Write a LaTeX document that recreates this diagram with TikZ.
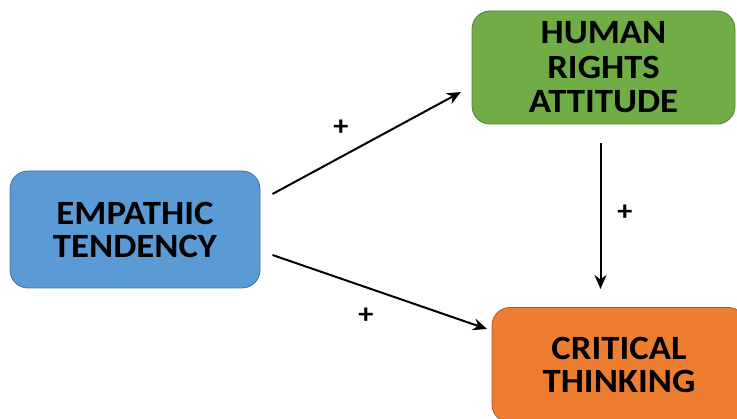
\documentclass[tikz,border=0pt]{standalone}
\usepackage{fontspec}
\setmainfont{Carlito}
\newfontfamily\boxfont[FakeStretch=1.08]{Carlito}
\usetikzlibrary{arrows.meta}
\definecolor{empblue}{HTML}{5B9BD5}
\definecolor{hragreen}{HTML}{70AD47}
\definecolor{ctorange}{HTML}{ED7D31}
\tikzset{
    factor/.style={draw=#1!72!black, fill=#1, rounded corners=18pt, line width=0.8pt,
        align=center, inner sep=0pt, font=\boxfont\bfseries\fontsize{34}{33}\selectfont},
    link/.style={-{Stealth[length=14pt,width=12pt]}, line width=2pt},
    sign/.style={inner sep=0pt, font=\boxfont\bfseries\fontsize{28}{28}\selectfont}
}
\begin{document}
\begin{tikzpicture}[x=1pt,y=-1pt]
        \clip (0,0) rectangle (737,419);
        % the three factors
        \node[factor=empblue, minimum width=250pt, minimum height=117pt] (emp) at (135,229.5) {EMPATHIC\\TENDENCY};
        \node[factor=hragreen, minimum width=263pt, minimum height=113pt,
            font=\boxfont\bfseries\fontsize{34}{34.5}\selectfont] (hra) at (603.5,67.5) {HUMAN\\RIGHTS\\ATTITUDE};
        \node[factor=ctorange, minimum width=254pt, minimum height=115pt] (ct) at (619,365) {CRITICAL\\THINKING};
        % arrow ends
        \coordinate (emp-up) at (272.5,194);
        \coordinate (hra-in) at (461,92);
        \coordinate (emp-down) at (272.5,255);
        \coordinate (ct-in) at (487,329);
        \coordinate (hra-out) at (600.5,143);
        \coordinate (ct-top) at (600.5,289);
        \draw[link] (emp-up) -- (hra-in);
        \draw[link] (emp-down) -- (ct-in);
        \draw[link] (hra-out) -- (ct-top);
        \node[sign] (p1) at (341,128) {+};
        \node[sign] (p2) at (366,316) {+};
        \node[sign] (p3) at (625,213) {+};
    \end{tikzpicture}
\end{document}
